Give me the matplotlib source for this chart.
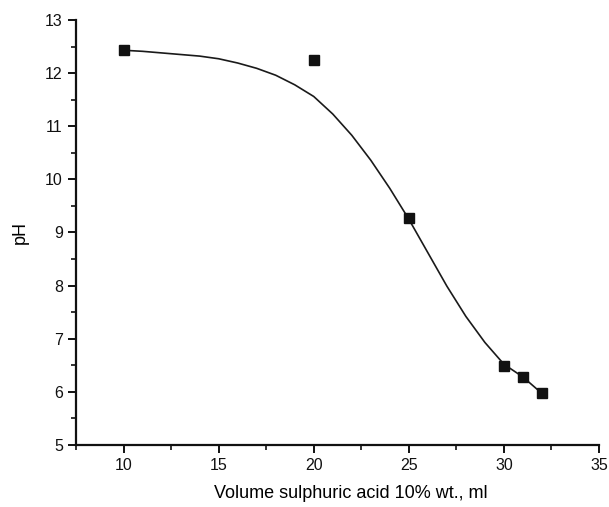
import matplotlib

matplotlib.use("Agg")
import matplotlib.pyplot as plt
from matplotlib.ticker import MultipleLocator

plt.rcParams["font.family"] = ["Liberation Sans", "DejaVu Sans"]

# measured points
volume_ml = [10, 20, 25, 30, 31, 32]
ph_values = [12.43, 12.24, 9.27, 6.49, 6.28, 5.97]

# fitted curve
curve_x = [10, 11, 12, 13, 14, 15, 16, 17, 18, 19, 20, 21, 22, 23, 24, 25,
           26, 27, 28, 29, 30, 31, 32]
curve_y = [12.43, 12.41, 12.38, 12.35, 12.32, 12.27, 12.19, 12.09, 11.96,
           11.78, 11.56, 11.23, 10.83, 10.36, 9.83, 9.25, 8.62, 7.99, 7.42,
           6.93, 6.52, 6.28, 5.97]

fig = plt.figure(figsize=(6.09, 5.07), dpi=100)
ax = fig.add_axes([0.1248, 0.1223, 0.8588, 0.8383])

ax.plot(curve_x, curve_y, color="#1a1a1a", linewidth=1.2)
ax.plot(volume_ml, ph_values, linestyle="none", marker="s", markersize=7,
        color="#111111")

ax.set_xlim(7.5, 35)
ax.set_ylim(5, 13)
ax.xaxis.set_major_locator(MultipleLocator(5))
ax.xaxis.set_minor_locator(MultipleLocator(2.5))
ax.yaxis.set_major_locator(MultipleLocator(1))
ax.yaxis.set_minor_locator(MultipleLocator(0.5))

for side in ["top", "right"]:
    ax.spines[side].set_visible(False)
for side in ["left", "bottom"]:
    ax.spines[side].set_linewidth(1.6)
    ax.spines[side].set_color("#111111")

ax.tick_params(which="major", direction="out", length=6, width=1.4,
               labelsize=11.5, colors="#111111")
ax.tick_params(which="minor", direction="out", length=3.5, width=1.2,
               colors="#111111")

ax.set_xlabel("Volume sulphuric acid 10% wt., ml", fontsize=13)
ax.xaxis.set_label_coords(0.526, -0.094)
ax.set_ylabel("pH", fontsize=13, labelpad=12)

fig.savefig("out.png", dpi=100)
